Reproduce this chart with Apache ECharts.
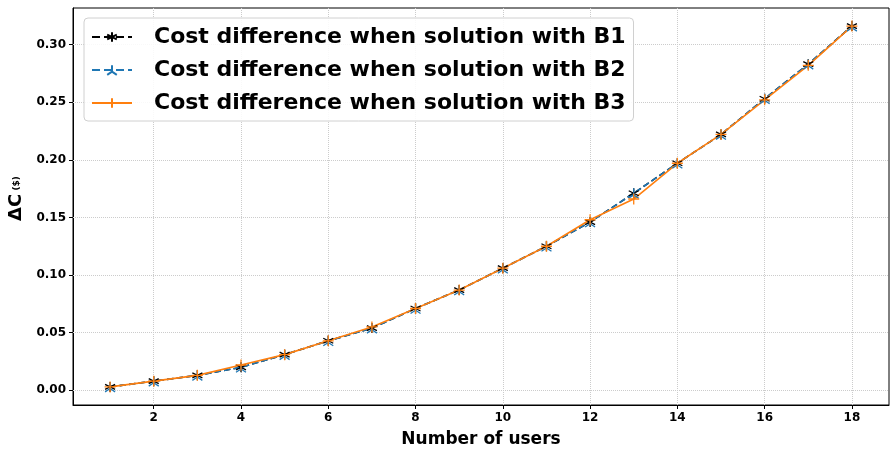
<!DOCTYPE html>
<html><head><meta charset="utf-8">
<script src="https://cdn.jsdelivr.net/npm/echarts@6/dist/echarts.min.js"></script>
<style>html,body{margin:0;padding:0;background:#fff}#c{width:891px;height:450px}</style>
</head><body><div id="c"></div>
<script>
const users = [1,2,3,4,5,6,7,8,9,10,11,12,13,14,15,16,17,18];
const b1 = [0.003,0.008,0.013,0.020,0.031,0.043,0.054,0.071,0.087,0.106,0.125,0.146,0.171,0.197,0.222,0.253,0.283,0.316];
const b2 = [0.003,0.008,0.013,0.020,0.031,0.043,0.054,0.071,0.087,0.106,0.125,0.146,0.171,0.197,0.222,0.253,0.283,0.316];
const b3 = [0.003,0.008,0.013,0.022,0.031,0.043,0.055,0.071,0.087,0.106,0.125,0.148,0.166,0.197,0.222,0.252,0.282,0.316];
const xTicks = [2,4,6,8,10,12,14,16,18];
const yTicks = [0,0.05,0.10,0.15,0.20,0.25,0.30];
const names = ['Cost difference when solution with B1','Cost difference when solution with B2','Cost difference when solution with B3'];

const FONT = 'DejaVu Sans';
const asterisk = 'path://M0,-10L0,10M-8.66,-5L8.66,5M-8.66,5L8.66,-5';
const triUp = 'path://M0,0L0,-10M0,0L-8.66,5M0,0L8.66,5';
const plus = 'path://M0,-10L0,10M-10,0L10,0';

function pairs(ys){ return users.map((u,i)=>[u, ys[i]]); }
function mkSeries(name, ys, color, type, sym, size){
  return {
    name, type:'line', data:pairs(ys), symbol:sym, symbolSize:size, showSymbol:true,
    lineStyle:{color, width:1.6, type},
    itemStyle:{color, borderColor:color, borderWidth:1.3},
    emphasis:{disabled:true}, z:3
  };
}
const gridLines = xTicks.map(v=>({xAxis:v})).concat(yTicks.map(v=>({yAxis:v})));

const chart = echarts.init(document.getElementById('c'));
chart.setOption({
  animation:false,
  backgroundColor:'#fff',
  grid:{left:73, right:2, top:8, bottom:45, show:true, borderColor:'#000', borderWidth:1, containLabel:false, outerBoundsMode:'none'},
  xAxis:{
    type:'value', min:0.15, max:18.85,
    name:'Number of users', nameLocation:'middle', nameGap:26,
    nameTextStyle:{fontFamily:FONT, fontWeight:'bold', fontSize:17, color:'#000'},
    axisLine:{show:true, onZero:false, lineStyle:{color:'#000'}},
    axisTick:{show:true, length:4, lineStyle:{color:'#000'}, customValues:xTicks},
    axisLabel:{fontFamily:FONT, fontWeight:'bold', fontSize:12, color:'#000', margin:7, customValues:xTicks},
    splitLine:{show:false}
  },
  yAxis:{
    type:'value', min:-0.0127, max:0.3317,
    name:'{a|ΔC} {b|($)}', nameLocation:'middle', nameGap:46, nameRotate:90,
    nameTextStyle:{padding:[0,0,0,16], rich:{a:{fontFamily:FONT, fontWeight:'bold', fontSize:18, color:'#000'}, b:{fontFamily:FONT, fontWeight:'bold', fontSize:9, color:'#000'}}},
    axisLine:{show:true, onZero:false, lineStyle:{color:'#000'}},
    axisTick:{show:true, length:4, lineStyle:{color:'#000'}, customValues:yTicks},
    axisLabel:{fontFamily:FONT, fontWeight:'bold', fontSize:12, color:'#000', margin:7, customValues:yTicks, formatter:v=>v.toFixed(2)},
    splitLine:{show:false}
  },
  legend:{
    left:84, top:18, orient:'vertical', itemGap:11, itemWidth:40, itemHeight:12, z:20,
    padding:[8,8,7,7],
    backgroundColor:'rgba(255,255,255,0.88)', borderColor:'#d0d0d0', borderWidth:1, borderRadius:4,
    textStyle:{fontFamily:FONT, fontWeight:'bold', fontSize:22, color:'#000', padding:[0,0,0,17]},
    data:names
  },
  series:[
    {type:'line', data:[], silent:true, z:1, markLine:{silent:true, z:1, symbol:'none', label:{show:false}, lineStyle:{color:'#cccccc', type:'dotted', width:1}, data:gridLines}},
    mkSeries(names[0], b1, '#000000', 'dashed', asterisk, 10),
    mkSeries(names[1], b2, '#1f77b4', 'dashed', triUp, 10),
    mkSeries(names[2], b3, '#ff7f0e', 'solid', plus, 11)
  ]
});
</script></body></html>
